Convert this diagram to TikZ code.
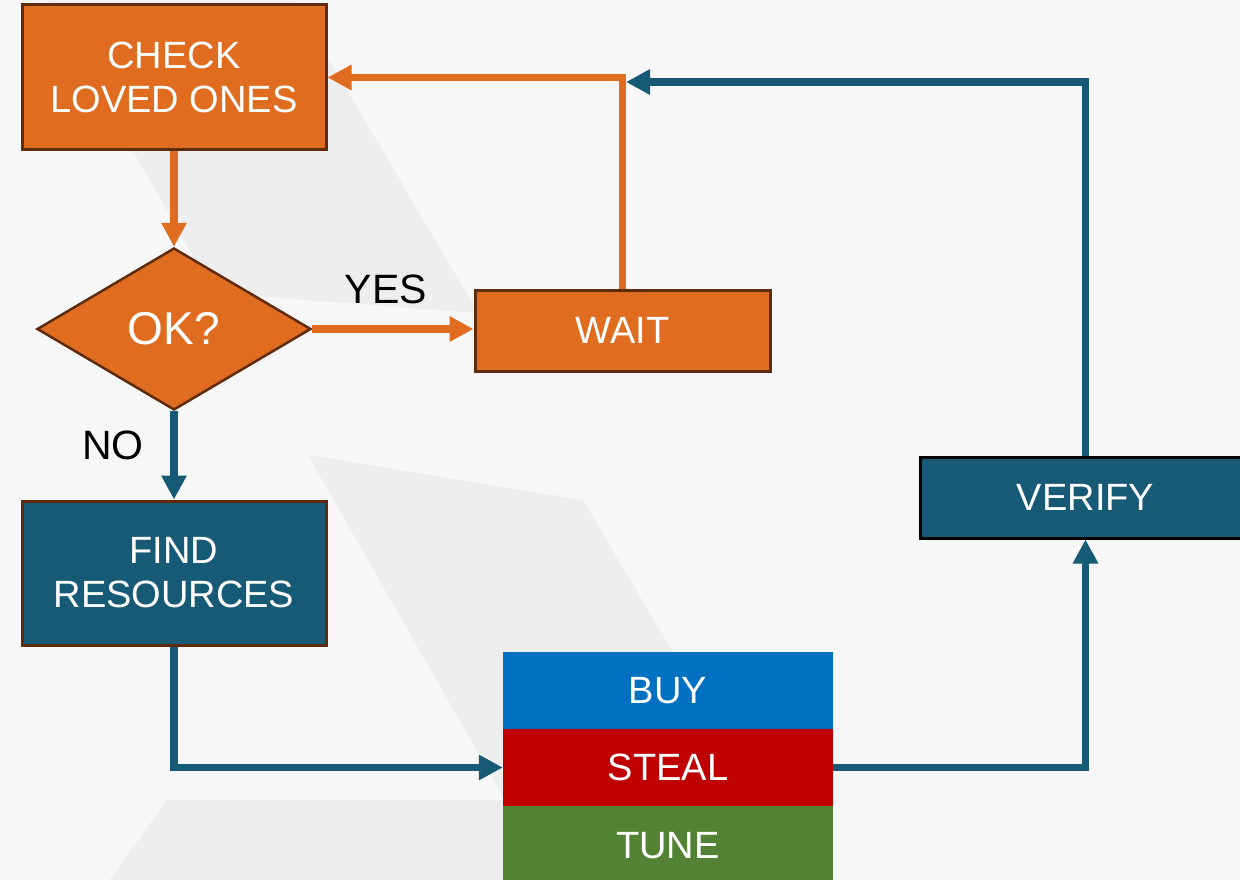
\documentclass[tikz,border=0pt]{standalone}
\usepackage{fontspec}
\setmainfont{Liberation Sans}
\usetikzlibrary{arrows.meta,shapes.geometric}
\definecolor{bgc}{HTML}{F7F7F7}
\definecolor{shadec}{HTML}{EEEEEE}
\definecolor{orng}{HTML}{E06C20}
\definecolor{tealc}{HTML}{165A75}
\definecolor{brwn}{HTML}{5E2C0C}
\definecolor{buyc}{HTML}{0070C0}
\definecolor{stealc}{HTML}{C00000}
\definecolor{tunec}{HTML}{548235}
\tikzset{
  boxbase/.style={rectangle, inner sep=0pt, text=white, align=center,
    font=\fontsize{38}{44}\selectfont},
  obox/.style={boxbase, fill=orng, draw=brwn, line width=3pt},
  tbox/.style={boxbase, fill=tealc, draw=brwn, line width=3pt},
  sbox/.style={boxbase, minimum width=330pt, minimum height=77pt},
  oline/.style={draw=orng, line width=7.5pt, line join=miter,
    -{Triangle[length=24pt,width=24pt]}},
  tline/.style={draw=tealc, line width=7.5pt, line join=miter,
    -{Triangle[length=24pt,width=24pt]}},
  lbl/.style={text=black, font=\fontsize{41}{48}\selectfont, inner sep=0pt}
}
\begin{document}
\begin{tikzpicture}[x=1pt,y=-1pt]
\useasboundingbox (0,0) rectangle (1240,880);
\begin{scope}
\clip (0,0) rectangle (1240,880);
\fill[bgc] (0,0) rectangle (1240,880);
% background shapes
\fill[shadec] (47,0) -- (294,0) -- (478,313) -- (214,293) -- cycle;
\fill[shadec] (308,455) -- (583,500) -- (760,800) -- (505,800) -- cycle;
\fill[shadec] (167,800) -- (833,800) -- (833,880) -- (110,880) -- cycle;

% nodes
\node[obox, minimum width=304pt, minimum height=145pt] (check) at (174,77.5) {CHECK\\LOVED ONES};
\node[diamond, fill=orng, draw=brwn, line width=2.5pt, inner sep=0pt,
      minimum width=274pt, minimum height=162pt, text=white,
      font=\fontsize{46}{52}\selectfont] (ok) at (174,329) {OK?};
\node[obox, minimum width=295pt, minimum height=81pt] (wait) at (622.5,330.5) {WAIT};
\node[tbox, minimum width=304pt, minimum height=144pt] (find) at (174,573) {FIND\\RESOURCES};
\node[boxbase, fill=tealc, draw=black, line width=3pt, minimum width=330pt, minimum height=81pt] (verify) at (1085.5,497.5) {VERIFY};
\node[sbox, fill=buyc] (buy) at (668,690.5) {BUY};
\node[sbox, fill=stealc] (steal) at (668,767.5) {STEAL};
\node[sbox, fill=tunec, minimum height=80pt] (tune) at (668,846) {TUNE};

\node[lbl] (yes) at (386,289) {YES};
\node[lbl] (no) at (113,445) {NO};

\coordinate (join) at (626,82);

% connectors
\draw[oline] (check.south) -- (ok.north);
\draw[oline] (ok.east) -- (ok.east -| wait.west);
\draw[oline] (wait.north) |- (check.east);
\draw[tline] (ok.south) -- (find.north);
\draw[tline] (find.south) |- (steal.west);
\draw[tline] (steal.east) -| (verify.south);
\draw[tline] (verify.north) |- (join);
\end{scope}
\end{tikzpicture}
\end{document}
